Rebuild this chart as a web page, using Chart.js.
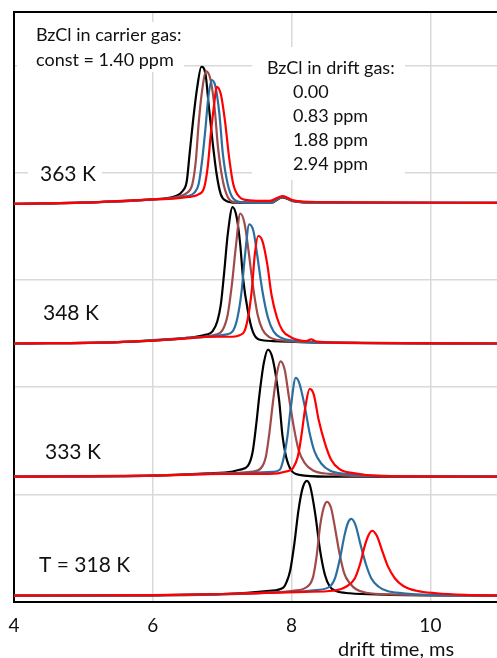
<!DOCTYPE html>
<html>
<head>
<meta charset="utf-8">
<script src="https://cdn.jsdelivr.net/npm/chart.js@4.4.1/dist/chart.umd.min.js"></script>
<style>
  html, body { margin: 0; padding: 0; background: #fff; overflow: hidden; }
  canvas { display: block; }
</style>
</head>
<body>
<canvas id="spectra" width="497" height="658"></canvas>
<script>
const xTicks = [4, 6, 8, 10];
const yGrid = [0, 1, 2, 3, 4, 5, 5.5];
const temps = ['363 K', '348 K', '333 K', 'T = 318 K'];
const concs = ['0.00', '0.83 ppm', '1.88 ppm', '2.94 ppm'];
const carrierNote = ['BzCl in carrier gas:', 'const = 1.40 ppm'];
const driftNote = 'BzCl in drift gas:';
const xTitle = 'drift time, ms';
const colors = ['#000000', '#A04A4A', '#2A6FA0', '#FF0000'];

// drift time (ms) vs stacked signal
const k363_000 = [[4,3.71],[5.2,3.727],[5.95,3.75],[6.33,3.783],[6.43,3.83],[6.49,3.923],[6.53,4.173],[6.58,4.484],[6.64,4.796],[6.70,4.989],[6.76,4.92],[6.80,4.671],[6.86,4.297],[6.92,3.986],[6.98,3.799],[7.06,3.737],[7.20,3.721],[7.7,3.72],[7.87,3.77],[8.02,3.735],[8.4,3.72],[10.96,3.72]];
const k363_083 = [[4,3.71],[5.2,3.727],[5.95,3.75],[6.40,3.783],[6.50,3.815],[6.57,3.893],[6.62,4.11],[6.66,4.453],[6.71,4.765],[6.77,4.946],[6.83,4.874],[6.89,4.609],[6.94,4.235],[7.01,3.923],[7.08,3.774],[7.17,3.727],[7.7,3.72],[7.87,3.775],[8.02,3.738],[8.4,3.72],[10.96,3.72]];
const k363_188 = [[4,3.71],[5.2,3.727],[5.95,3.75],[6.50,3.783],[6.60,3.815],[6.66,3.893],[6.71,4.11],[6.76,4.422],[6.80,4.703],[6.85,4.864],[6.90,4.811],[6.96,4.547],[7.01,4.173],[7.08,3.893],[7.15,3.768],[7.27,3.727],[7.7,3.722],[7.87,3.778],[8.02,3.74],[8.4,3.72],[10.96,3.72]];
const k363_294 = [[4,3.71],[5.22,3.727],[5.95,3.75],[6.33,3.762],[6.52,3.774],[6.66,3.799],[6.74,3.861],[6.79,4.048],[6.84,4.391],[6.89,4.671],[6.92,4.802],[6.98,4.734],[7.04,4.484],[7.10,4.142],[7.16,3.893],[7.25,3.774],[7.39,3.743],[7.68,3.737],[7.87,3.783],[8.02,3.743],[8.40,3.727],[10.96,3.72]];

const k348_000 = [[4,2.407],[5.5,2.42],[6.5,2.46],[6.77,2.49],[6.86,2.52],[6.93,2.615],[6.98,2.77],[7.03,3.08],[7.08,3.425],[7.15,3.68],[7.21,3.58],[7.26,3.33],[7.30,3.02],[7.37,2.71],[7.44,2.52],[7.53,2.444],[7.73,2.43],[8.5,2.415],[10.96,2.407]];
const k348_083 = [[4,2.407],[5.5,2.42],[6.5,2.46],[6.91,2.49],[7.01,2.537],[7.08,2.678],[7.14,2.958],[7.20,3.33],[7.26,3.62],[7.32,3.534],[7.38,3.27],[7.44,2.958],[7.51,2.678],[7.58,2.537],[7.68,2.466],[7.87,2.435],[8.5,2.415],[10.96,2.407]];
const k348_188 = [[4,2.407],[5.5,2.42],[6.5,2.46],[7.05,2.49],[7.15,2.52],[7.22,2.647],[7.28,2.895],[7.33,3.238],[7.39,3.519],[7.45,3.456],[7.51,3.207],[7.58,2.895],[7.66,2.647],[7.74,2.52],[7.85,2.46],[8.07,2.43],[8.6,2.415],[10.96,2.407]];
const k348_294 = [[4,2.407],[5.5,2.42],[6.5,2.455],[6.8,2.47],[7.10,2.47],[7.25,2.485],[7.32,2.52],[7.38,2.678],[7.43,2.927],[7.47,3.238],[7.52,3.41],[7.58,3.363],[7.65,3.145],[7.71,2.864],[7.79,2.647],[7.87,2.528],[7.99,2.466],[8.21,2.43],[8.28,2.445],[8.36,2.425],[9,2.412],[10.96,2.407]];

const k333_000 = [[4,1.166],[6,1.175],[6.8,1.195],[7.15,1.213],[7.25,1.229],[7.37,1.266],[7.44,1.40],[7.49,1.65],[7.54,1.946],[7.60,2.226],[7.66,2.35],[7.73,2.257],[7.82,1.88],[7.87,1.54],[7.92,1.353],[7.99,1.229],[8.11,1.182],[8.5,1.166],[10.96,1.166]];
const k333_083 = [[4,1.166],[6,1.175],[7,1.195],[7.44,1.213],[7.56,1.245],[7.63,1.353],[7.68,1.572],[7.73,1.852],[7.79,2.133],[7.84,2.241],[7.90,2.164],[7.96,1.914],[8.03,1.634],[8.10,1.416],[8.19,1.292],[8.31,1.222],[8.55,1.19],[8.89,1.172],[10.96,1.166]];
const k333_188 = [[4,1.166],[6,1.175],[7,1.195],[7.73,1.21],[7.83,1.229],[7.88,1.322],[7.94,1.54],[7.99,1.82],[8.06,2.086],[8.11,2.04],[8.19,1.82],[8.26,1.572],[8.33,1.40],[8.43,1.285],[8.55,1.222],[8.79,1.19],[9.17,1.172],[10.96,1.166]];
const k333_294 = [[4,1.166],[6,1.175],[7,1.19],[7.68,1.19],[7.92,1.213],[8.02,1.245],[8.09,1.353],[8.14,1.54],[8.20,1.82],[8.26,1.983],[8.32,1.93],[8.39,1.696],[8.48,1.478],[8.57,1.322],[8.69,1.235],[8.89,1.198],[9.27,1.172],[10.96,1.166]];

const k318_000 = [[4,0.055],[6,0.058],[7,0.068],[7.68,0.10],[7.88,0.13],[7.93,0.185],[7.98,0.29],[8.04,0.54],[8.10,0.855],[8.16,1.06],[8.22,1.125],[8.27,1.07],[8.34,0.82],[8.41,0.48],[8.48,0.25],[8.55,0.14],[8.64,0.098],[8.84,0.077],[9.32,0.064],[10.96,0.055]];
const k318_083 = [[4,0.055],[6,0.058],[7,0.068],[7.6,0.08],[8.02,0.10],[8.23,0.14],[8.31,0.23],[8.36,0.42],[8.41,0.70],[8.46,0.87],[8.51,0.93],[8.57,0.87],[8.63,0.67],[8.69,0.45],[8.76,0.26],[8.84,0.17],[8.93,0.114],[9.08,0.082],[9.41,0.066],[10.96,0.055]];
const k318_188 = [[4,0.055],[6,0.058],[7,0.068],[7.8,0.085],[8.36,0.107],[8.55,0.14],[8.63,0.226],[8.70,0.41],[8.76,0.61],[8.81,0.73],[8.86,0.77],[8.92,0.715],[8.99,0.54],[9.07,0.35],[9.15,0.215],[9.25,0.14],[9.37,0.10],[9.61,0.077],[9.99,0.062],[10.96,0.055]];
const k318_294 = [[4,0.055],[6,0.06],[7,0.07],[7.6,0.08],[8.2,0.09],[8.60,0.10],[8.79,0.14],[8.91,0.215],[8.99,0.357],[9.05,0.51],[9.11,0.62],[9.16,0.66],[9.23,0.61],[9.31,0.465],[9.39,0.325],[9.49,0.215],[9.61,0.145],[9.80,0.10],[10.09,0.077],[10.5,0.062],[10.96,0.055]];

const series = [
  [k363_000, k363_083, k363_188, k363_294],
  [k348_000, k348_083, k348_188, k348_294],
  [k333_000, k333_083, k333_188, k333_294],
  [k318_000, k318_083, k318_188, k318_294]
];

const datasets = [];
series.forEach((group, t) => {
  group.forEach((pts, c) => {
    datasets.push({
      label: temps[t] + ', ' + concs[c],
      data: pts.map(p => ({ x: p[0], y: p[1] })),
      borderColor: colors[c],
      borderWidth: 2.2,
      pointRadius: 0,
      cubicInterpolationMode: 'monotone',
      order: 3 - c
    });
  });
});

const FONT = 'Lato';

// text boxes drawn over the grid, under the curves
const notes = {
  id: 'notes',
  beforeDatasetsDraw(chart) {
    const ctx = chart.ctx;
    ctx.save();
    ctx.fillStyle = '#fff';
    ctx.fillRect(17, 22, 167, 50);
    ctx.fillRect(252, 47, 153, 133);
    ctx.fillRect(28, 160, 74, 28);

    ctx.fillStyle = '#111';
    ctx.textBaseline = 'middle';
    ctx.textAlign = 'left';
    ctx.font = '18px ' + FONT;
    ctx.fillText(carrierNote[0], 36, 35);
    ctx.fillText(carrierNote[1], 36, 60);
    ctx.fillText(driftNote, 267, 68);
    concs.forEach((s, i) => ctx.fillText(s, 293, 92 + i * 24));

    ctx.font = '21px ' + FONT;
    const ty = [174, 313, 452, 565];
    const tx = [40, 43, 45, 39];
    temps.forEach((s, i) => ctx.fillText(s, tx[i], ty[i]));
    ctx.restore();
  },
  afterDraw(chart) {
    const ctx = chart.ctx;
    ctx.save();
    ctx.fillStyle = '#111';
    ctx.textBaseline = 'middle';
    ctx.font = '20px ' + FONT;
    ctx.fillText(xTitle, 338, 650);
    ctx.restore();
  }
};

new Chart(document.getElementById('spectra'), {
  type: 'line',
  data: { datasets },
  options: {
    responsive: false,
    animation: false,
    layout: { padding: { left: 14, top: 12, right: 0, bottom: 0 } },
    plugins: { legend: { display: false }, tooltip: { enabled: false } },
    scales: {
      x: {
        type: 'linear',
        min: 4,
        max: 10.96,
        afterBuildTicks: s => { s.ticks = xTicks.map(v => ({ value: v })); },
        afterFit: s => { s.height = 56.5; s.paddingLeft = 0; s.paddingRight = 0; },
        grid: { color: '#d9d9d9', lineWidth: 1.5, drawTicks: false },
        border: { color: '#000', width: 2 },
        ticks: { color: '#111', font: { family: FONT, size: 19 }, padding: 13, maxRotation: 0 }
      },
      y: {
        type: 'linear',
        min: 0,
        max: 5.5,
        afterBuildTicks: s => { s.ticks = yGrid.map(v => ({ value: v })); },
        grid: {
          color: c => (c.tick && c.tick.value === 5.5) ? '#000' : '#d9d9d9',
          lineWidth: c => (c.tick && c.tick.value === 5.5) ? 2 : 1.5,
          drawTicks: false
        },
        border: { color: '#000', width: 2 },
        ticks: { display: false }
      }
    }
  },
  plugins: [notes]
});
</script>
</body>
</html>
